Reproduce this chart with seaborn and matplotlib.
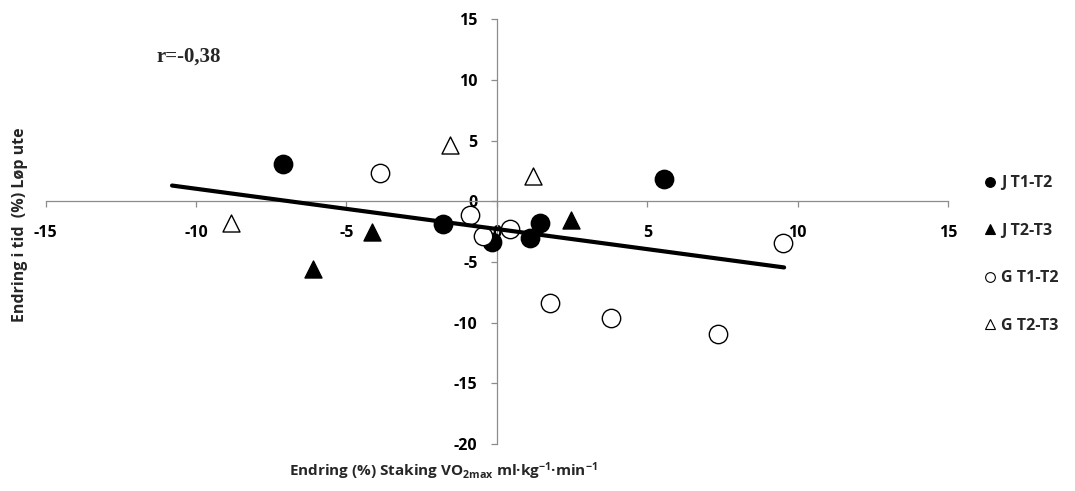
import matplotlib
matplotlib.use("Agg")
import matplotlib.pyplot as plt
from matplotlib.lines import Line2D
import numpy as np
import pandas as pd
import seaborn as sns

# Change (%) in double-poling VO2max (x) vs change (%) in outdoor running time (y)
jt12_x = [-7.1, -1.8, -0.15, 5.55, 1.45, 1.1]
jt12_y = [3.1, -1.9, -3.35, 1.85, -1.75, -3.0]

jt23_x = [-4.15, -6.1, 2.45]
jt23_y = [-2.5, -5.6, -1.5]

gt12_x = [-3.9, -0.9, -0.45, 0.45, 9.5, 1.75, 3.8, 7.35]
gt12_y = [2.35, -1.15, -2.85, -2.3, -3.4, -8.35, -9.6, -10.9]

gt23_x = [-8.85, -1.55, 1.2]
gt23_y = [-1.75, 4.6, 2.1]

groups = ["J T1-T2", "J T2-T3", "G T1-T2", "G T2-T3"]

# Regression line end points
trend_x = [-10.8, 9.55]
trend_y = [1.3, -5.45]

x_ticks = [-15, -10, -5, 0, 5, 10, 15]
y_ticks = [-20, -15, -10, -5, 0, 5, 10, 15]

FONT = ["Open Sans", "DejaVu Sans"]

sns.set_theme(style="white")
plt.rcParams["font.family"] = FONT
plt.rcParams["font.weight"] = "bold"
plt.rcParams["axes.unicode_minus"] = False
plt.rcParams["mathtext.fontset"] = "custom"
plt.rcParams["mathtext.rm"] = "Open Sans:bold"
plt.rcParams["mathtext.bf"] = "Open Sans:bold"
plt.rcParams["mathtext.default"] = "bf"

df = pd.concat([
    pd.DataFrame({"x": jt12_x, "y": jt12_y, "group": groups[0]}),
    pd.DataFrame({"x": jt23_x, "y": jt23_y, "group": groups[1]}),
    pd.DataFrame({"x": gt12_x, "y": gt12_y, "group": groups[2]}),
    pd.DataFrame({"x": gt23_x, "y": gt23_y, "group": groups[3]}),
], ignore_index=True)

styles = {
    "J T1-T2": dict(marker="o", fc="black", s=175),
    "J T2-T3": dict(marker="^", fc="black", s=150),
    "G T1-T2": dict(marker="o", fc="white", s=175),
    "G T2-T3": dict(marker="^", fc="white", s=150),
}

fig = plt.figure(figsize=(10.75, 4.91), dpi=100)
ax = fig.add_axes([0.04251, 0.0957, 0.8394, 0.8650])
ax.set_axisbelow(True)

for g in groups:
    st = styles[g]
    sns.scatterplot(data=df[df["group"] == g], x="x", y="y", ax=ax,
                    marker=st["marker"], color=st["fc"], edgecolor="black",
                    linewidth=1.0, s=st["s"], zorder=3, legend=False)

sns.lineplot(x=trend_x, y=trend_y, ax=ax, color="black", linewidth=3.0,
             zorder=4, legend=False)

ax.set_xlim(-15, 15)
ax.set_ylim(-20, 15)
ax.set_xticks(x_ticks)
ax.set_yticks(y_ticks)

ax.spines["left"].set_position(("data", 0))
ax.spines["bottom"].set_position(("data", 0))
ax.spines["right"].set_visible(False)
ax.spines["top"].set_visible(False)
for sp in ("left", "bottom"):
    ax.spines[sp].set_color("#8c8c8c")
    ax.spines[sp].set_linewidth(0.9)
    ax.spines[sp].set_zorder(1)

ax.tick_params(axis="both", which="major", direction="out", length=4,
               width=0.9, color="#8c8c8c", labelsize=11.5, labelcolor="black")
ax.tick_params(axis="x", pad=13, bottom=True)
ax.tick_params(axis="y", pad=10, left=True)
for lab in ax.get_xticklabels() + ax.get_yticklabels():
    lab.set_fontweight("bold")
    lab.set_family(FONT)

ax.set_xlabel("")
ax.set_ylabel("")

ax.text(-11.3, 11.9, "r=-0,38", family="Liberation Serif", fontweight="bold",
        fontsize=15, ha="left", va="center")

fig.text(0.019, 0.543, "Endring i tid  (%) Løp ute", rotation=90,
         ha="center", va="center", fontsize=11.5, fontweight="bold",
         family=FONT)
fig.text(0.412, 0.04,
         r"Endring (%) Staking VO$_{\mathbf{2max}}$ ml·kg$^{\mathbf{-1}}$·min$^{\mathbf{-1}}$",
         ha="center", va="center", fontsize=11, fontweight="bold",
         family=FONT)

handles = [Line2D([], [], linestyle="none", marker=styles[g]["marker"],
                  markerfacecolor=styles[g]["fc"], markeredgecolor="black",
                  markeredgewidth=0.8, markersize=7) for g in groups]
leg = fig.legend(handles, groups, loc="upper left",
                 bbox_to_anchor=(0.9085, 0.659), frameon=False,
                 prop={"weight": "bold", "size": 11.5, "family": FONT},
                 labelspacing=1.97, handlelength=0.7, handletextpad=0.35,
                 borderpad=0)

fig.savefig("out.png", dpi=100)
